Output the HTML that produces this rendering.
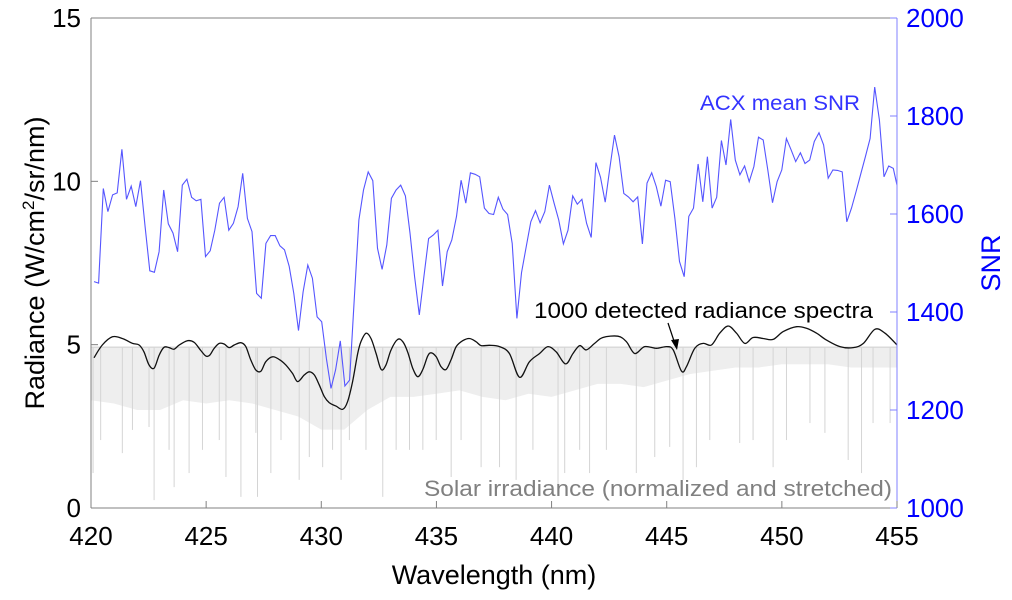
<!DOCTYPE html>
<html><head><meta charset="utf-8">
<style>
html,body{margin:0;padding:0;background:#fff;}
svg{display:block;font-family:"Liberation Sans",sans-serif;}
</style></head>
<body>
<svg id="chart" width="1012" height="600" viewBox="0 0 1012 600" xmlns="http://www.w3.org/2000/svg">
  <g id="solar"></g>
  <g id="rad"></g>
  <g id="snr"></g>
  <g id="axes"></g>
  <text x="700" y="110" font-size="21" fill="#3333ff" textLength="160" lengthAdjust="spacingAndGlyphs">ACX mean SNR</text>
  <text x="534" y="318" font-size="22" fill="#000" textLength="339" lengthAdjust="spacingAndGlyphs">1000 detected radiance spectra</text>
  <g>
    <line x1="668" y1="323" x2="675" y2="344" stroke="#000" stroke-width="1.2"/>
    <polygon points="677,350 671,340 679,339" fill="#000"/>
  </g>
  <text x="424" y="496" font-size="22" fill="#808080" textLength="468" lengthAdjust="spacingAndGlyphs">Solar irradiance (normalized and stretched)</text>
</svg>
<script>
// ---- data ----
const snrStart = 420.13;
const snrStep = 0.2018;
const snrValues = [1462,1459,1652,1605,1639,1643,1732,1630,1657,1615,1668,1574,1484,1481,1523,1649,1580,1561,1523,1659,1671,1634,1627,1630,1513,1525,1567,1622,1634,1567,1581,1615,1683,1591,1564,1438,1428,1540,1556,1556,1535,1527,1493,1438,1362,1441,1496,1469,1390,1380,1305,1244,1282,1341,1249,1261,1424,1588,1649,1686,1668,1530,1487,1537,1632,1649,1659,1637,1561,1472,1394,1472,1550,1557,1567,1453,1523,1547,1595,1669,1622,1684,1681,1676,1612,1601,1599,1634,1610,1599,1540,1387,1480,1533,1584,1607,1582,1605,1659,1622,1588,1539,1567,1637,1620,1630,1581,1552,1705,1675,1624,1693,1761,1717,1642,1635,1625,1635,1539,1663,1684,1656,1616,1669,1666,1591,1503,1472,1595,1612,1702,1625,1717,1612,1634,1750,1700,1793,1710,1680,1698,1666,1697,1757,1751,1690,1623,1666,1690,1754,1731,1707,1725,1703,1710,1748,1766,1741,1673,1690,1689,1686,1584,1612,1646,1682,1717,1754,1859,1792,1676,1698,1693,1659];
const radWl = [420.13,420.49,420.93,421.36,421.80,422.09,422.30,422.52,422.74,422.96,423.17,423.39,423.61,423.83,424.19,424.48,424.77,424.99,425.16,425.35,425.57,425.78,426.00,426.22,426.51,426.72,426.94,427.16,427.38,427.59,427.88,428.17,428.46,428.75,428.97,429.26,429.48,429.70,429.91,430.13,430.35,430.64,430.93,431.14,431.36,431.58,431.72,431.94,432.16,432.38,432.60,432.81,433.03,433.32,433.54,433.75,433.97,434.19,434.41,434.62,434.77,434.99,435.20,435.42,435.64,435.86,436.14,436.43,436.72,436.94,437.30,437.74,438.17,438.61,439.04,439.48,439.84,440.20,440.61,440.93,441.22,441.51,441.87,442.23,442.88,443.25,443.61,444.04,444.55,444.99,445.28,445.64,445.86,446.22,446.58,446.94,447.30,447.67,448.03,448.39,448.75,449.19,449.62,450.06,450.64,451.07,451.51,451.94,452.52,453.10,453.54,454.04,454.48,455.0];
const radValues = [4.60,4.99,5.24,5.19,5.04,4.99,4.78,4.38,4.28,4.68,4.92,4.91,4.86,4.99,5.12,5.07,4.82,4.65,4.68,4.89,5.04,5.02,4.91,4.99,5.06,4.94,4.53,4.22,4.19,4.48,4.63,4.55,4.38,4.12,3.87,4.07,4.17,4.07,3.77,3.41,3.22,3.12,3.02,3.25,3.87,4.73,5.09,5.35,5.19,4.73,4.24,4.38,4.84,5.16,5.09,4.78,4.28,4.02,4.24,4.65,4.75,4.63,4.33,4.24,4.55,4.94,5.12,5.19,5.09,4.97,4.98,4.94,4.73,4.00,4.48,4.73,4.94,4.78,4.41,4.73,4.97,4.84,5.04,5.22,5.26,5.09,4.73,4.94,4.89,4.94,4.84,4.19,4.33,4.89,5.04,4.99,5.35,5.57,5.35,5.04,5.22,5.19,5.16,5.40,5.55,5.50,5.35,5.14,4.94,4.91,5.04,5.47,5.35,4.99];
const solarTop = 4.92;
const envWl = [420,421,422,423,424,425,426,427,428,429,430,431,432,433,434,435,436,437,438,439,440,441,442,443,444,445,446,447,448,449,450,451,452,453,454,455];
const envLow = [3.3,3.2,3.0,3.0,3.3,3.2,3.3,3.2,3.0,2.8,2.4,2.4,3.0,3.4,3.4,3.5,3.6,3.4,3.3,3.5,3.4,3.6,3.8,3.8,3.7,3.9,4.1,4.2,4.3,4.3,4.4,4.4,4.4,4.3,4.3,4.3];
const lineWl = [420.09,420.42,421.36,421.80,422.52,422.74,423.39,423.61,424.26,424.84,425.57,425.86,426.51,427.16,427.23,427.81,428.25,429.04,429.48,430.06,430.49,430.86,431.22,431.94,432.67,433.25,433.83,434.41,434.99,435.64,436.07,436.94,437.74,438.46,439.19,440.28,440.57,441.22,441.65,442.38,443.68,444.48,445.13,445.71,446.29,446.87,448.17,448.75,449.62,450.20,451.22,451.87,452.88,453.46,453.96,454.70];
const lineMin = [1.07,2.08,1.68,2.39,2.48,0.24,1.78,0.64,1.07,1.78,2.08,0.95,0.34,2.30,0.34,1.07,2.08,0.86,1.56,1.25,1.78,0.86,2.08,1.78,0.34,1.78,1.78,1.78,2.08,0.95,2.08,1.25,1.25,0.86,1.78,0.64,1.07,1.78,1.07,1.78,1.07,1.56,1.87,0.86,1.25,2.08,1.99,2.08,1.25,2.08,2.60,2.30,1.47,1.07,2.60,2.60];
const xTicks = [420,425,430,435,440,445,450,455];
const yTicks = [0,5,10,15];
const y2Ticks = [1000,1200,1400,1600,1800,2000];

// ---- scales ----
const X0=91,X1=897,Y0=508,Y1=18;
const xs = w => X0 + (w-420)/(455-420)*(X1-X0);
const ys = v => Y0 - v/15*(Y0-Y1);
const y2s = v => Y0 - (v-1000)/1000*(Y0-Y1);
const NS="http://www.w3.org/2000/svg";
function mk(tag, parent, attrs){const e=document.createElementNS(NS,tag);for(const k in attrs)e.setAttribute(k,attrs[k]);parent.appendChild(e);return e;}

// solar
const solar=document.getElementById('solar');
let env = envWl.map((w,i)=>xs(w).toFixed(1)+','+ys(envLow[i]).toFixed(1)).join(' ');
env += ' '+xs(455)+','+ys(solarTop)+' '+xs(420)+','+ys(solarTop);
const envEl=mk('polygon',solar,{points:env,fill:'#eeeeee'});


const topEl=mk('line',solar,{x1:xs(420),y1:ys(solarTop),x2:xs(455),y2:ys(solarTop),stroke:'#dadada','stroke-width':1.5});


lineWl.forEach((w,i)=>{
  const l=mk('line',solar,{x1:xs(w),y1:ys(solarTop),x2:xs(w),y2:ys(lineMin[i]),stroke:'#d4d4d4','stroke-width':1});
  
  
});

// radiance smooth curve (catmull-rom)
const rp = radWl.map((w,i)=>[xs(w),ys(radValues[i])]);
let d='M'+rp[0][0]+','+rp[0][1];
for(let i=0;i<rp.length-1;i++){
  const p0=rp[Math.max(0,i-1)],p1=rp[i],p2=rp[i+1],p3=rp[Math.min(rp.length-1,i+2)];
  const c1=[p1[0]+(p2[0]-p0[0])/6,p1[1]+(p2[1]-p0[1])/6];
  const c2=[p2[0]-(p3[0]-p1[0])/6,p2[1]-(p3[1]-p1[1])/6];
  d+=' C'+c1[0].toFixed(1)+','+c1[1].toFixed(1)+' '+c2[0].toFixed(1)+','+c2[1].toFixed(1)+' '+p2[0].toFixed(1)+','+p2[1].toFixed(1);
}
const radEl=mk('path',document.getElementById('rad'),{d:d,fill:'none',stroke:'#111','stroke-width':1.3});



// snr
const sp = snrValues.map((v,i)=>xs(Math.min(455,snrStart+i*snrStep)).toFixed(1)+','+y2s(v).toFixed(1)).join(' ');
const snrEl=mk('polyline',document.getElementById('snr'),{points:sp,fill:'none',stroke:'#5555ff','stroke-width':1.1});



// axes
const ax=document.getElementById('axes');
mk('line',ax,{x1:X0,y1:Y1,x2:X1,y2:Y1,stroke:'#808080','stroke-width':1});
mk('line',ax,{x1:X0,y1:Y0,x2:X1,y2:Y0,stroke:'#808080','stroke-width':1});
mk('line',ax,{x1:X0,y1:Y1,x2:X0,y2:Y0,stroke:'#808080','stroke-width':1});
mk('line',ax,{x1:X1,y1:Y1,x2:X1,y2:Y0,stroke:'#8080ff','stroke-width':1});
xTicks.forEach(t=>{
  mk('line',ax,{x1:xs(t),y1:Y0,x2:xs(t),y2:Y0-7,stroke:'#808080'});
  const tx=mk('text',ax,{x:xs(t),y:545,'font-size':26,'text-anchor':'middle',fill:'#000'});
  tx.textContent=t;
  
  
});
yTicks.forEach(t=>{
  mk('line',ax,{x1:X0,y1:ys(t),x2:X0+7,y2:ys(t),stroke:'#808080'});
  const tx=mk('text',ax,{x:81,y:ys(t)+9,'font-size':26,'text-anchor':'end',fill:'#000'});
  tx.textContent=t;
  
  
});
y2Ticks.forEach(t=>{
  mk('line',ax,{x1:X1,y1:y2s(t),x2:X1-7,y2:y2s(t),stroke:'#8080ff'});
  const tx=mk('text',ax,{x:906,y:y2s(t)+9,'font-size':26,'text-anchor':'start',fill:'#0000ff'});
  tx.textContent=t;
  
  
});
const xt=mk('text',ax,{x:494,y:584,'font-size':27,'text-anchor':'middle',fill:'#000'});
xt.textContent='Wavelength (nm)';


const yt=mk('text',ax,{x:0,y:0,'font-size':27,'text-anchor':'middle',fill:'#000',transform:'translate(44,263) rotate(-90)'});
yt.innerHTML='Radiance (W/cm<tspan dy="-10" font-size="17">2</tspan><tspan dy="10">/sr/nm)</tspan>';


const y2t=mk('text',ax,{x:0,y:0,'font-size':27,'text-anchor':'middle',fill:'#0000ff',transform:'translate(1000,263) rotate(-90)'});
y2t.textContent='SNR';


</script>
</body></html>
